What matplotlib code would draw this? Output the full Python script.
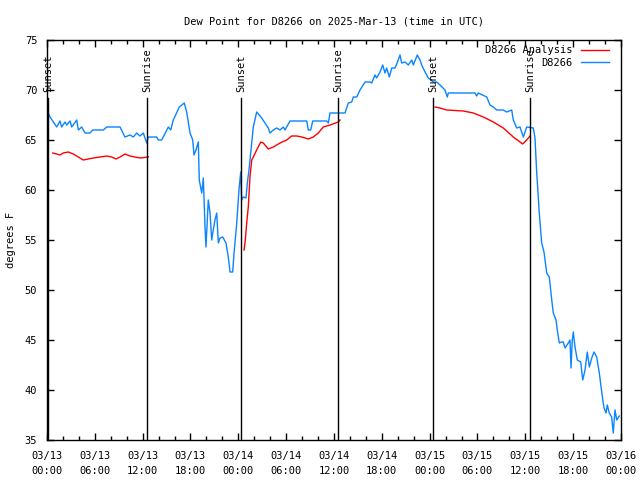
import numpy as np
import pandas as pd
import matplotlib
matplotlib.use("Agg")
import matplotlib.pyplot as plt
import matplotlib.dates as mdates

# hours after 2025-03-13 00:00 UTC
obs_hours = [0.16, 0.38, 1.22, 1.63, 1.84, 2.26, 2.47, 2.89, 3.10, 3.73, 3.93, 4.35, 4.77,
             5.39, 5.73, 7.06, 7.49, 9.16, 9.78, 10.41, 10.83, 11.25, 11.67, 12.08, 12.51,
             12.71, 13.76, 13.96, 14.39, 15.22, 15.52, 15.84, 16.60, 16.90, 17.22, 17.52,
             17.94, 18.28, 18.44, 18.69, 18.98, 19.10, 19.41, 19.61, 19.82, 19.94, 20.23,
             20.45, 20.66, 20.79, 21.07, 21.29, 21.49, 21.70, 22.04, 22.45, 22.74, 22.96,
             23.29, 23.46, 23.80, 24.08, 24.30, 24.42, 24.62, 24.96, 25.13, 25.38, 25.55,
             25.88, 26.30, 26.63, 26.93, 27.35, 27.76, 27.97, 28.39, 28.81, 29.23, 29.64,
             29.85, 30.48, 32.58, 32.78, 33.08, 33.33, 35.09, 35.29, 35.50, 37.38, 37.79,
             38.22, 38.42, 38.85, 39.26, 39.89, 40.51, 40.73, 41.14, 41.35, 41.77, 42.11,
             42.40, 42.61, 42.94, 43.24, 43.65, 43.87, 44.28, 44.49, 44.91, 45.32, 45.75,
             45.95, 46.45, 46.79, 47.00, 47.42, 47.83, 48.46, 48.88, 49.30, 49.92, 50.21,
             50.34, 53.69, 53.90, 54.10, 55.16, 55.57, 55.98, 56.41, 57.24, 57.66, 58.29,
             58.49, 58.92, 59.33, 59.75, 60.17, 61.00, 61.21, 61.43, 61.75, 62.05, 62.34,
             62.68, 63.01, 63.31, 63.51, 63.85, 64.01, 64.26, 64.56, 64.76, 64.98, 65.39,
             65.60, 65.73, 65.89, 66.02, 66.23, 66.52, 66.95, 67.20, 67.49, 67.77, 68.03,
             68.33, 68.62, 68.95, 69.28, 69.58, 69.87, 70.12, 70.28, 70.53, 70.83, 71.03,
             71.25, 71.46, 71.79]
obs_dewpt = [67.7, 67.3, 66.3, 66.9, 66.3, 66.8, 66.5, 66.9, 66.3, 67.0, 66.0, 66.3, 65.7,
             65.7, 66.0, 66.0, 66.3, 66.3, 65.3, 65.5, 65.3, 65.7, 65.4, 65.7, 64.7,
             65.3, 65.3, 65.0, 65.0, 66.3, 66.0, 67.0, 68.3, 68.5, 68.7, 67.8,
             65.7, 65.0, 63.5, 64.0, 64.8, 61.0, 59.7, 61.2, 56.3, 54.3, 59.0,
             57.7, 55.0, 55.7, 57.0, 57.7, 54.7, 55.2, 55.3, 54.7, 53.3, 51.8,
             51.8, 53.7, 56.7, 60.0, 61.8, 59.0, 59.3, 59.2, 60.7, 62.3, 63.7,
             66.3, 67.8, 67.5, 67.2, 66.7, 66.2, 65.7, 66.0, 66.2, 66.0, 66.3,
             66.0, 66.9, 66.9, 66.0, 66.0, 66.9, 66.9, 66.7, 67.7, 67.7, 68.7,
             68.8, 69.3, 69.3, 70.0, 70.8, 70.8, 70.7, 71.5, 71.2, 71.8, 72.5,
             71.7, 72.2, 71.3, 72.2, 72.2, 72.6, 73.5, 72.7, 72.8, 72.5, 73.0,
             72.5, 73.5, 73.0, 72.5, 71.8, 71.2, 70.8, 70.8, 70.5, 70.0, 69.3,
             69.7, 69.7, 69.4, 69.7, 69.3, 68.5, 68.3, 68.0, 68.0, 67.8, 68.0,
             67.0, 66.2, 66.3, 65.3, 66.3, 66.2, 65.2, 61.7, 57.7, 54.7, 53.8,
             51.7, 51.3, 49.0, 47.7, 47.0, 46.0, 44.7, 44.8, 44.8, 44.2, 44.7,
             45.0, 42.2, 45.0, 45.8, 44.3, 43.0, 42.8, 41.0, 42.0, 43.8, 42.3,
             43.2, 43.8, 43.3, 41.7, 39.8, 38.2, 37.7, 38.5, 37.7, 37.3, 35.7,
             38.0, 37.0, 37.4]

# analysis only shown overnight, three pieces
ana1_hours = [0.72, 1.22, 1.63, 2.04, 2.67, 3.30, 3.93, 4.55, 5.18, 5.81, 6.65, 7.49,
              8.12, 8.66, 9.16, 9.78, 10.41, 11.04, 11.67, 12.71]
ana1_dewpt = [63.7, 63.6, 63.5, 63.7, 63.8, 63.6, 63.3, 63.0, 63.1, 63.2, 63.3, 63.4,
              63.3, 63.1, 63.3, 63.6, 63.4, 63.3, 63.2, 63.3]
ana2_hours = [24.71, 24.84, 25.05, 25.25, 25.46, 25.68, 25.88, 26.30, 26.81, 27.13, 27.76,
              28.39, 29.23, 30.07, 30.69, 31.32, 31.95, 32.78, 33.40, 34.03, 34.66, 35.50,
              36.54, 36.75]
ana2_dewpt = [54.0, 54.7, 56.7, 58.3, 61.3, 63.0, 63.3, 64.0, 64.8, 64.7, 64.1,
              64.3, 64.7, 65.0, 65.4, 65.4, 65.3, 65.1, 65.3, 65.7, 66.3, 66.5,
              66.8, 67.0]
ana3_hours = [48.67, 49.30, 50.14, 52.22, 53.48, 54.73, 55.98, 57.24, 58.49, 59.67, 60.17, 60.59]
ana3_dewpt = [68.3, 68.2, 68.0, 67.9, 67.7, 67.3, 66.8, 66.2, 65.3, 64.6, 65.0, 65.4]

sun_hours = [0.15, 12.55, 24.33, 36.5, 48.4, 60.6]
sun_labels = ["Sunset", "Sunrise", "Sunset", "Sunrise", "Sunset", "Sunrise"]

start = pd.Timestamp("2025-03-13 00:00")
def to_time(h):
    return start + pd.to_timedelta(np.array(h), unit="h")

plt.rcParams["font.family"] = "DejaVu Sans Mono"
plt.rcParams["font.size"] = 7.5

fig = plt.figure(figsize=(6.4, 4.8), dpi=100)
ax = fig.add_axes([47 / 640, 1 - 440 / 480, 574 / 640, 400 / 480])

ax.plot(to_time(ana1_hours), ana1_dewpt, color="#ff0000", lw=1, label="D8266 Analysis")
ax.plot(to_time(ana2_hours), ana2_dewpt, color="#ff0000", lw=1)
ax.plot(to_time(ana3_hours), ana3_dewpt, color="#ff0000", lw=1)
ax.plot(to_time(obs_hours), obs_dewpt, color="#0a84ff", lw=1, label="D8266")

for h, lab in zip(sun_hours, sun_labels):
    t = to_time([h])[0]
    ax.plot([t, t], [35, 69.2], color="black", lw=1)
    ax.text(t, 69.8, lab, rotation=90, ha="center", va="bottom")

ax.set_xlim(start, start + pd.Timedelta(hours=72))
ax.set_ylim(35, 75)
ax.set_yticks(np.arange(35, 76, 5))
ax.xaxis.set_major_locator(mdates.HourLocator(byhour=[0, 6, 12, 18]))
ax.xaxis.set_minor_locator(mdates.HourLocator(byhour=range(0, 24, 2)))
ax.xaxis.set_major_formatter(mdates.DateFormatter("%m/%d\n%H:%M"))
for lbl in ax.get_xticklabels():
    lbl.set_linespacing(1.6)
ax.tick_params(which="both", direction="in", top=True, right=True, width=1)
ax.tick_params(which="major", length=5, pad=8)
ax.tick_params(axis="y", which="major", pad=7)
ax.tick_params(which="minor", length=3)
for s in ax.spines.values():
    s.set_linewidth(1)

ax.set_ylabel("degrees F", labelpad=6)
ax.set_title("Dew Point for D8266 on 2025-Mar-13 (time in UTC)", fontsize=7.5, pad=11)
ax.legend(loc="upper right", bbox_to_anchor=(0.986, 0.9975), frameon=False,
          markerfirst=False, handlelength=2.7, borderaxespad=0, labelspacing=0.25,
          handletextpad=0.75)

fig.savefig("out.png")
